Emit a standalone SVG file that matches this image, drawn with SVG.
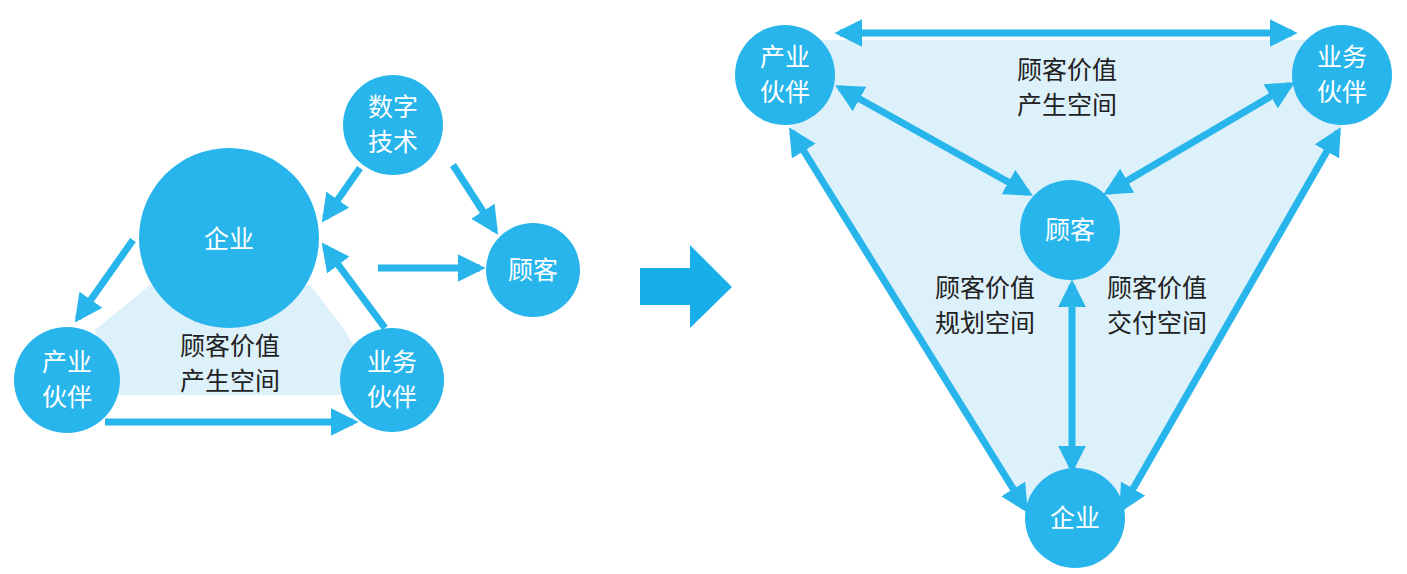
<svg xmlns="http://www.w3.org/2000/svg" width="1407" height="574" viewBox="0 0 1407 574">
<style>
.c{fill:#27b5ec}
.t{font-family:"Noto Sans CJK SC",sans-serif;font-size:25px;fill:#fff;text-anchor:middle}
.d{font-family:"Noto Sans CJK SC",sans-serif;font-size:25px;fill:#222;text-anchor:middle}
.a{stroke:#27b5ec;stroke-width:7;fill:none}
</style>
<defs>
<marker id="h" viewBox="0 0 10 10" refX="8" refY="5" markerWidth="4" markerHeight="4" orient="auto-start-reverse"><path d="M0,0L10,5L0,10z" fill="#27b5ec"/></marker>
</defs>
<rect width="1407" height="574" fill="#fff"/>
<polygon points="95,330 150,285 310,285 345,330 380,395 110,395" fill="#ddf1fb"/>
<polygon points="800,40 1330,40 1342,125 1122,505 1025,505 790,125" fill="#ddf1fb"/>
<path d="M640,268H690V245L732,287L690,328V305H640z" fill="#18aeea"/>
<g id="connectors">
<line class="a" x1="360" y1="168" x2="325" y2="218" marker-end="url(#h)"/>
<line class="a" x1="453" y1="165" x2="495" y2="230" marker-end="url(#h)"/>
<line class="a" x1="133" y1="240" x2="78" y2="318" marker-end="url(#h)"/>
<line class="a" x1="105" y1="422" x2="353" y2="422" marker-end="url(#h)"/>
<line class="a" x1="385" y1="328" x2="325" y2="247" marker-end="url(#h)"/>
<line class="a" x1="378" y1="268" x2="480" y2="268" marker-end="url(#h)"/>
<line class="a" x1="840" y1="33" x2="1292" y2="33" marker-start="url(#h)" marker-end="url(#h)"/>
<line class="a" x1="840" y1="88" x2="1028" y2="193" marker-start="url(#h)" marker-end="url(#h)"/>
<line class="a" x1="1290" y1="85" x2="1108" y2="192" marker-start="url(#h)" marker-end="url(#h)"/>
<line class="a" x1="1072" y1="285" x2="1072" y2="468" marker-start="url(#h)" marker-end="url(#h)"/>
<line class="a" x1="792" y1="132" x2="1025" y2="508" marker-start="url(#h)" marker-end="url(#h)"/>
<line class="a" x1="1338" y1="132" x2="1122" y2="508" marker-start="url(#h)" marker-end="url(#h)"/>
</g>
<g id="l-qiye"><circle class="c" cx="229" cy="238" r="90"/><text class="t" x="229" y="248">企业</text></g>
<g id="l-shuzi"><circle class="c" cx="393" cy="125" r="50"/><text class="t" x="393" y="116">数字</text><text class="t" x="393" y="151">技术</text></g>
<g id="l-guke"><circle class="c" cx="533" cy="270" r="47"/><text class="t" x="533" y="279">顾客</text></g>
<g id="l-chanye"><circle class="c" cx="67" cy="380" r="53"/><text class="t" x="67" y="371">产业</text><text class="t" x="67" y="406">伙伴</text></g>
<g id="l-yewu"><circle class="c" cx="392" cy="380" r="52"/><text class="t" x="392" y="371">业务</text><text class="t" x="392" y="406">伙伴</text></g>
<text class="d" x="230" y="355">顾客价值</text><text class="d" x="230" y="390">产生空间</text>
<g id="r-chanye"><circle class="c" cx="785" cy="75" r="50"/><text class="t" x="785" y="66">产业</text><text class="t" x="785" y="101">伙伴</text></g>
<g id="r-yewu"><circle class="c" cx="1342" cy="75" r="50"/><text class="t" x="1342" y="66">业务</text><text class="t" x="1342" y="101">伙伴</text></g>
<g id="r-guke"><circle class="c" cx="1070" cy="230" r="50"/><text class="t" x="1070" y="239">顾客</text></g>
<g id="r-qiye"><circle class="c" cx="1075" cy="518" r="50"/><text class="t" x="1075" y="527">企业</text></g>
<text class="d" x="1067" y="79">顾客价值</text><text class="d" x="1067" y="114">产生空间</text>
<text class="d" x="985" y="297">顾客价值</text><text class="d" x="985" y="332">规划空间</text>
<text class="d" x="1157" y="297">顾客价值</text><text class="d" x="1157" y="332">交付空间</text>
</svg>
